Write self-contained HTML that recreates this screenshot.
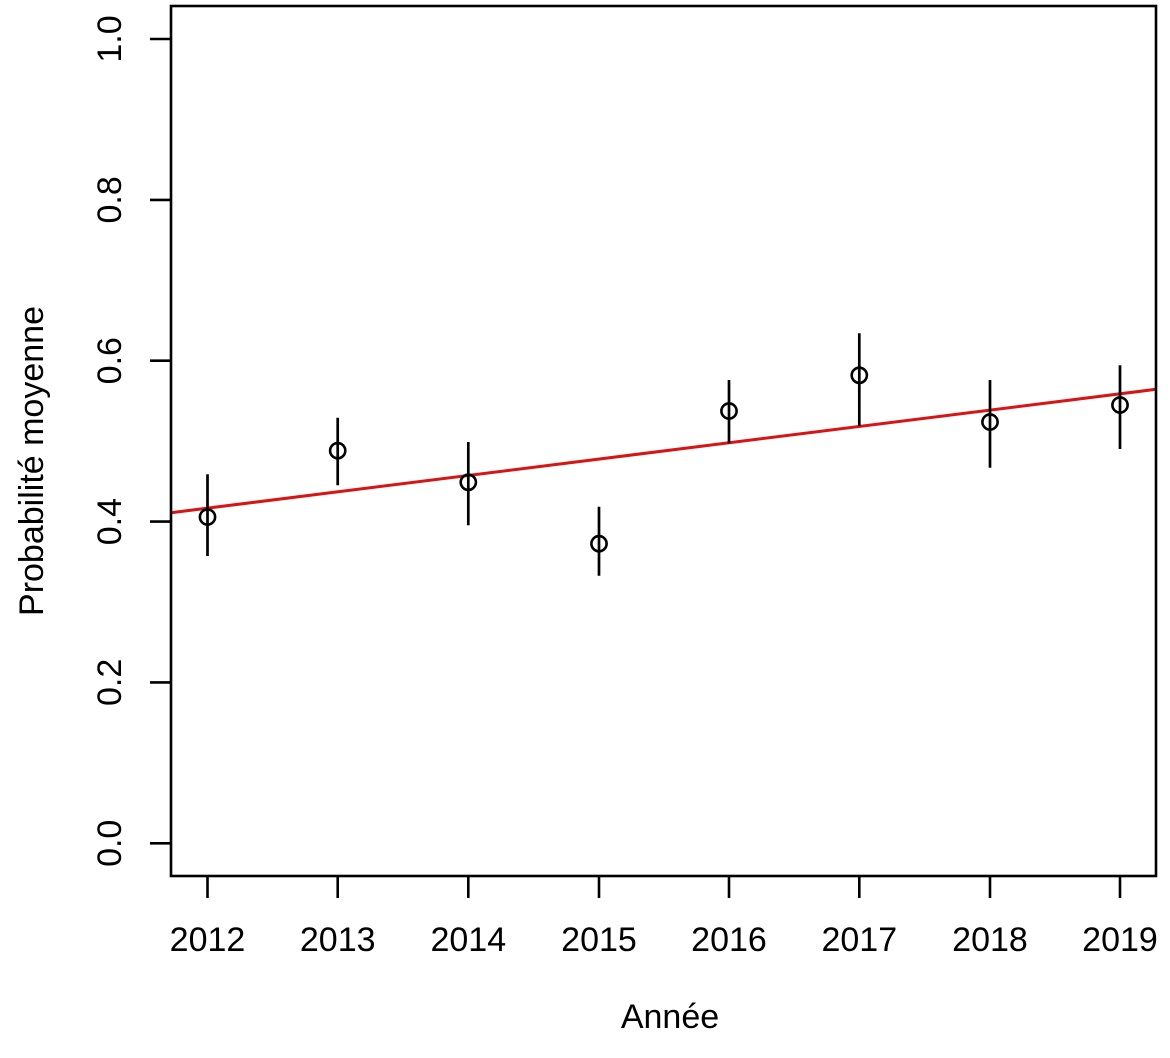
<!DOCTYPE html>
<html>
<head>
<meta charset="utf-8">
<style>
  html, body { margin: 0; padding: 0; background: #ffffff; }
  svg { display: block; }
  text { font-family: "Liberation Sans", Arial, sans-serif; fill: #000; }
</style>
</head>
<body>
<svg width="1170" height="1058" viewBox="0 0 1170 1058" xmlns="http://www.w3.org/2000/svg">
  <rect x="0" y="0" width="1170" height="1058" fill="#ffffff"/>

  <!-- regression line -->
  <line x1="171" y1="512.7" x2="1156" y2="389.3" stroke="#d81414" stroke-width="3"/>

  <!-- error bars -->
  <g stroke="#000" stroke-width="2.7" fill="none">
    <line x1="207.5" y1="474.3" x2="207.5" y2="556"/>
    <line x1="337.7" y1="417.7" x2="337.7" y2="485.3"/>
    <line x1="468.3" y1="442" x2="468.3" y2="525.3"/>
    <line x1="599" y1="506.7" x2="599" y2="575.7"/>
    <line x1="729" y1="380" x2="729" y2="443.3"/>
    <line x1="859.3" y1="333.3" x2="859.3" y2="426"/>
    <line x1="990" y1="380" x2="990" y2="467.7"/>
    <line x1="1120" y1="365.3" x2="1120" y2="449"/>
  </g>

  <!-- points -->
  <g stroke="#000" stroke-width="2.6" fill="none">
    <circle cx="207.5" cy="517" r="7.6"/>
    <circle cx="337.7" cy="450.7" r="7.6"/>
    <circle cx="468.3" cy="482.3" r="7.6"/>
    <circle cx="599" cy="543.7" r="7.6"/>
    <circle cx="729" cy="411" r="7.6"/>
    <circle cx="859.3" cy="375.3" r="7.6"/>
    <circle cx="990" cy="422" r="7.6"/>
    <circle cx="1120" cy="405" r="7.6"/>
  </g>

  <!-- plot box -->
  <rect x="171" y="6" width="985" height="870" fill="none" stroke="#000" stroke-width="2.6"/>

  <!-- y ticks -->
  <g stroke="#000" stroke-width="2.6">
    <line x1="150" y1="843.3" x2="171" y2="843.3"/>
    <line x1="150" y1="682.4" x2="171" y2="682.4"/>
    <line x1="150" y1="521.6" x2="171" y2="521.6"/>
    <line x1="150" y1="360.7" x2="171" y2="360.7"/>
    <line x1="150" y1="199.9" x2="171" y2="199.9"/>
    <line x1="150" y1="39" x2="171" y2="39"/>
  </g>

  <!-- x ticks -->
  <g stroke="#000" stroke-width="2.6">
    <line x1="207.5" y1="876" x2="207.5" y2="898"/>
    <line x1="337.7" y1="876" x2="337.7" y2="898"/>
    <line x1="468.3" y1="876" x2="468.3" y2="898"/>
    <line x1="599" y1="876" x2="599" y2="898"/>
    <line x1="729" y1="876" x2="729" y2="898"/>
    <line x1="859.3" y1="876" x2="859.3" y2="898"/>
    <line x1="990" y1="876" x2="990" y2="898"/>
    <line x1="1120" y1="876" x2="1120" y2="898"/>
  </g>

  <!-- x tick labels -->
  <g font-size="34" text-anchor="middle">
    <text x="207.5" y="951">2012</text>
    <text x="337.7" y="951">2013</text>
    <text x="468.3" y="951">2014</text>
    <text x="599" y="951">2015</text>
    <text x="729" y="951">2016</text>
    <text x="859.3" y="951">2017</text>
    <text x="990" y="951">2018</text>
    <text x="1120" y="951">2019</text>
  </g>

  <!-- y tick labels (rotated) -->
  <g font-size="34" text-anchor="middle">
    <text transform="translate(121,843.3) rotate(-90)">0.0</text>
    <text transform="translate(121,682.4) rotate(-90)">0.2</text>
    <text transform="translate(121,521.6) rotate(-90)">0.4</text>
    <text transform="translate(121,360.7) rotate(-90)">0.6</text>
    <text transform="translate(121,199.9) rotate(-90)">0.8</text>
    <text transform="translate(121,39) rotate(-90)">1.0</text>
  </g>

  <!-- axis titles -->
  <text x="670" y="1028" font-size="34" text-anchor="middle">Année</text>
  <text transform="translate(43,461) rotate(-90)" font-size="34" text-anchor="middle">Probabilité moyenne</text>
</svg>
</body>
</html>
